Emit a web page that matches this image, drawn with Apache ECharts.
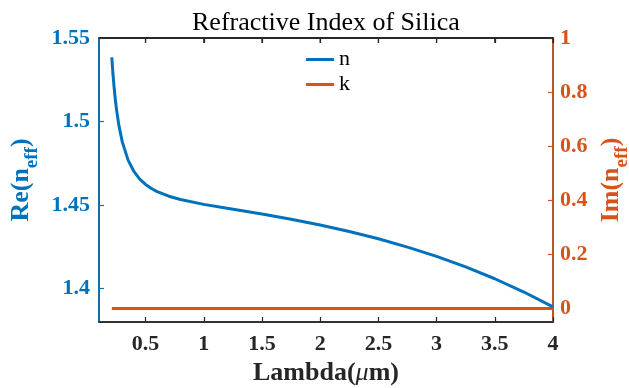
<!DOCTYPE html>
<html>
<head>
<meta charset="utf-8">
<script src="https://cdn.jsdelivr.net/npm/echarts@6/dist/echarts.min.js"></script>
<style>
  html, body { margin: 0; padding: 0; background: #fff; }
  #chart { width: 629px; height: 388px; }
</style>
</head>
<body>
<div id="chart"></div>
<script>
// Wavelength samples (µm) and the refractive index of fused silica at each
const wavelength = [0.21, 0.22, 0.23, 0.24, 0.25, 0.27, 0.30, 0.35, 0.40, 0.45, 0.50, 0.55,
                    0.60, 0.70, 0.80, 1.00, 1.20, 1.50, 1.75, 2.00, 2.25, 2.50, 2.75,
                    3.00, 3.25, 3.50, 3.75, 4.00];
const nValues = [1.53836, 1.52845, 1.52024, 1.51333, 1.50744, 1.49800, 1.48780, 1.47690,
                 1.47012, 1.46556, 1.46233, 1.45991, 1.45804, 1.45529, 1.45332, 1.45042,
                 1.44805, 1.44462, 1.44153, 1.43808, 1.43420, 1.42980, 1.42484, 1.41925,
                 1.41296, 1.40589, 1.39795, 1.38903];
// Extinction coefficient (lossless across the band)
const kValues = [0, 0, 0, 0, 0, 0, 0, 0, 0, 0, 0, 0, 0, 0, 0, 0, 0, 0, 0, 0, 0, 0, 0, 0, 0, 0, 0, 0];

const xTicks = [0.5, 1, 1.5, 2, 2.5, 3, 3.5, 4];
const reTicks = [1.4, 1.45, 1.5, 1.55];
const imTicks = [0, 0.2, 0.4, 0.6, 0.8, 1];

const BLUE = '#0072BD';
const ORANGE = '#D95319';
const DARK = '#262626';
const SERIF = "'Liberation Serif', 'Times New Roman', serif";

const X_MIN = 0.1, X_MAX = 4;
const RE_MIN = 1.38, RE_MAX = 1.55;
const IM_MIN = -0.05, IM_MAX = 1;

const nSeries = wavelength.map((w, i) => [w, nValues[i]]);
const kSeries = wavelength.map((w, i) => [w, kValues[i]]);

const fmt = v => String(+v.toFixed(2));

// Rotated axis title with a lowered "eff" subscript
const axisName = color => ({
  rich: {
    m: { fontFamily: SERIF, fontWeight: 'bold', fontSize: 26, color: color, verticalAlign: 'top', lineHeight: 34 },
    s: { fontFamily: SERIF, fontWeight: 'bold', fontSize: 19, color: color, verticalAlign: 'bottom', lineHeight: 10 }
  }
});

const LINE_ICON = 'path://M0,0 L28,0 L28,3 L0,3 Z';

const chart = echarts.init(document.getElementById('chart'), null, { renderer: 'canvas' });

chart.setOption({
  animation: false,
  backgroundColor: '#fff',
  title: {
    text: 'Refractive Index of Silica',
    left: 187,
    top: 5,
    textStyle: { fontFamily: SERIF, fontWeight: 'normal', fontSize: 26, color: '#000' }
  },
  legend: {
    orient: 'vertical',
    left: 301,
    top: 43,
    itemWidth: 28,
    itemHeight: 3,
    itemGap: 2,
    data: [{ name: 'n', icon: LINE_ICON }, { name: 'k', icon: LINE_ICON }],
    textStyle: { fontFamily: SERIF, fontSize: 22, color: '#000', lineHeight: 23 }
  },
  grid: {
    left: 99, right: 76, top: 38, bottom: 66,
    containLabel: false,
    outerBounds: { left: -60, right: -60, top: -60, bottom: -60 },
    show: true, borderColor: DARK, borderWidth: 1.5, backgroundColor: 'transparent'
  },
  xAxis: [{
    type: 'value',
    position: 'bottom',
    min: X_MIN,
    max: X_MAX,
    name: '{m|Lambda(}{i|μ}{m|m)}',
    nameLocation: 'middle',
    nameGap: 27,
    nameTextStyle: {
      rich: {
        m: { fontFamily: SERIF, fontWeight: 'bold', fontSize: 26, color: DARK },
        i: { fontFamily: SERIF, fontStyle: 'italic', fontWeight: 'normal', fontSize: 26, color: DARK }
      }
    },
    axisLine: { show: true, onZero: false, lineStyle: { color: DARK, width: 1.5 } },
    axisTick: { show: true, inside: true, length: 5, customValues: xTicks, lineStyle: { color: DARK, width: 1.2 } },
    axisLabel: {
      customValues: xTicks, margin: 11, formatter: fmt,
      fontFamily: SERIF, fontWeight: 'bold', fontSize: 22, color: DARK
    },
    splitLine: { show: false }
  }, {
    type: 'value',
    position: 'top',
    min: X_MIN,
    max: X_MAX,
    axisLine: { show: true, onZero: false, lineStyle: { color: DARK, width: 1.5 } },
    axisTick: { show: true, inside: true, length: 5, customValues: xTicks, lineStyle: { color: DARK, width: 1.2 } },
    axisLabel: { show: true, customValues: xTicks, formatter: () => '' },
    splitLine: { show: false }
  }],
  yAxis: [{
    type: 'value',
    position: 'left',
    min: RE_MIN,
    max: RE_MAX,
    name: '{m|Re(n}{s|eff}{m|)}',
    nameLocation: 'middle',
    nameRotate: 90,
    nameGap: 57,
    nameMoveOverlap: false,
    nameTextStyle: axisName(BLUE),
    axisLine: { show: true, onZero: false, lineStyle: { color: BLUE, width: 1.5 } },
    axisTick: { show: true, inside: true, length: 5, customValues: reTicks, lineStyle: { color: BLUE, width: 1.2 } },
    axisLabel: {
      customValues: reTicks, margin: 9, formatter: fmt,
      fontFamily: SERIF, fontWeight: 'bold', fontSize: 22, color: BLUE
    },
    splitLine: { show: false }
  }, {
    type: 'value',
    position: 'right',
    min: IM_MIN,
    max: IM_MAX,
    name: '{m|Im(n}{s|eff}{m|)}',
    nameLocation: 'middle',
    nameRotate: 90,
    nameGap: 45,
    nameMoveOverlap: false,
    nameTextStyle: axisName(ORANGE),
    axisLine: { show: true, onZero: false, lineStyle: { color: ORANGE, width: 1.5 } },
    axisTick: { show: true, inside: true, length: 5, customValues: imTicks, lineStyle: { color: ORANGE, width: 1.2 } },
    axisLabel: {
      customValues: imTicks, margin: 7, formatter: fmt,
      fontFamily: SERIF, fontWeight: 'bold', fontSize: 22, color: ORANGE
    },
    splitLine: { show: false }
  }],
  series: [{
    name: 'n',
    type: 'line',
    xAxisIndex: 0,
    yAxisIndex: 0,
    data: nSeries,
    symbol: 'none',
    smooth: false,
    lineStyle: { color: BLUE, width: 3 },
    itemStyle: { color: BLUE },
    z: 3
  }, {
    name: 'k',
    type: 'line',
    xAxisIndex: 1,
    yAxisIndex: 1,
    data: kSeries,
    symbol: 'none',
    lineStyle: { color: ORANGE, width: 3 },
    itemStyle: { color: ORANGE },
    z: 2
  }]
});

// Top edge of the plot box with inward ticks, placed through the axis scales
const toPx = (x, y) => chart.convertToPixel({ xAxisIndex: 0, yAxisIndex: 0 }, [x, y]);
const edgeL = toPx(X_MIN, RE_MAX);
const edgeR = toPx(X_MAX, RE_MAX);
const topEdge = [{
  type: 'line', z: 100, silent: true,
  shape: { x1: edgeL[0], y1: edgeL[1], x2: edgeR[0], y2: edgeR[1] },
  style: { stroke: DARK, lineWidth: 1.5 }
}].concat(xTicks.map(t => {
  const p = toPx(t, RE_MAX);
  return {
    type: 'line', z: 100, silent: true,
    shape: { x1: p[0], y1: p[1], x2: p[0], y2: p[1] + 5 },
    style: { stroke: DARK, lineWidth: 1.2 }
  };
}));
chart.setOption({ graphic: topEdge });
</script>
</body>
</html>
